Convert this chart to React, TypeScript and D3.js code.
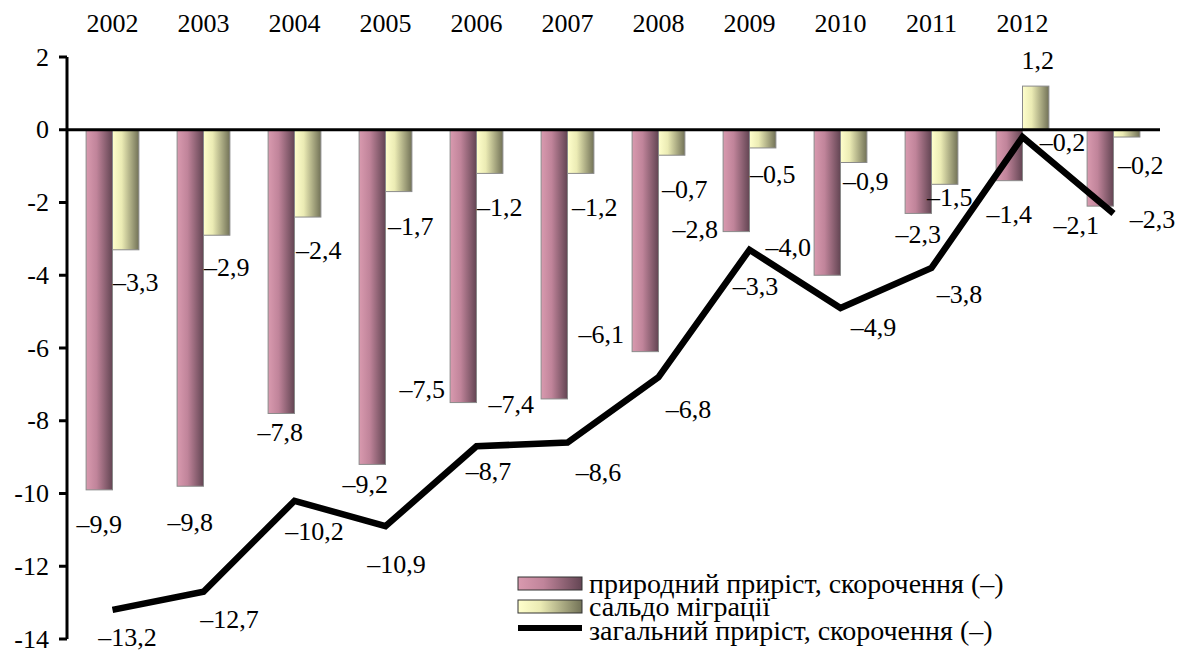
import React from 'react'
import * as d3 from 'd3'

// categories (the last one carries no year label in the source)
const categories = ['c2002', 'c2003', 'c2004', 'c2005', 'c2006', 'c2007', 'c2008', 'c2009', 'c2010', 'c2011', 'c2012', 'c2013']
const yearLabels = ['2002', '2003', '2004', '2005', '2006', '2007', '2008', '2009', '2010', '2011', '2012', '']

const natural = [-9.9, -9.8, -7.8, -9.2, -7.5, -7.4, -6.1, -2.8, -4.0, -2.3, -1.4, -2.1]
const migration = [-3.3, -2.9, -2.4, -1.7, -1.2, -1.2, -0.7, -0.5, -0.9, -1.5, 1.2, -0.2]
const total = [-13.2, -12.7, -10.2, -10.9, -8.7, -8.6, -6.8, -3.3, -4.9, -3.8, -0.2, -2.3]

const yTicks = [2, 0, -2, -4, -6, -8, -10, -12, -14]

const legendLabels = [
  'природний приріст, скорочення (–)',
  'сальдо міграції',
  'загальний приріст, скорочення (–)',
]

// hand placed value labels, nudges in px from the mark's end point
const naturalNudge: [number, number][] = [
  [0, 35], [0, 36], [-1, 19], [-7, 20], [-41, -13], [-43, 6],
  [-44, -17], [-41, -2], [-39, -28], [0, 21], [0, 34], [-24, 19],
]
const migrationNudge: [number, number][] = [
  [10, 33], [10, 32], [11, 33], [12, 35], [10, 34], [14, 34],
  [13, 34], [10, 27], [12, 19], [5, 13], [2, -26], [14, 28],
]
const totalNudge: [number, number][] = [
  [15, 28], [26, 28], [20, 31], [11, 38], [12, 25], [31, 30],
  [30, 32], [6, 37], [33, 20], [28, 27], [40, 5], [39, 6],
]

const W = 1183
const H = 668
const FS = 26
const LEGEND_FS = 28
const FONT = 'Liberation Serif, Times New Roman, DejaVu Serif, Noto Serif, serif'

const fmt = (v: number) => (v < 0 ? '–' : '') + Math.abs(v).toFixed(1).replace('.', ',')

export default function App() {
  const x = d3.scaleBand<string>().domain(categories).range([67, 1159]).padding(0)
  const y = d3.scaleLinear().domain([-14, 2]).range([639, 57])
  const bw = x.bandwidth()
  const barW = bw * 0.29
  const cx = (i: number) => (x(categories[i]) as number) + bw / 2

  const line = d3.line<number>()
    .x((_, i) => cx(i))
    .y(d => y(d))

  return (
    <svg width={W} height={H} style={{ position: 'absolute', left: 0, top: 0, background: '#fff' }}
      fontFamily={FONT} fontSize={FS}>
      <defs>
        <linearGradient id="pinkGrad" x1="0" x2="1" y1="0" y2="0">
          <stop offset="0%" stopColor="#d99aaf" />
          <stop offset="40%" stopColor="#c0849a" />
          <stop offset="100%" stopColor="#634553" />
        </linearGradient>
        <linearGradient id="yellowGrad" x1="0" x2="1" y1="0" y2="0">
          <stop offset="0%" stopColor="#ffffcc" />
          <stop offset="35%" stopColor="#ebebb4" />
          <stop offset="100%" stopColor="#727257" />
        </linearGradient>
      </defs>

      {/* year labels across the top */}
      {yearLabels.map((t, i) => t && (
        <text key={t} x={cx(i)} y={23} textAnchor="middle" dominantBaseline="central">{t}</text>
      ))}

      {/* y axis */}
      <line x1={67} x2={67} y1={y(2)} y2={y(-14)} stroke="#000" strokeWidth={3} />
      {yTicks.map(t => (
        <g key={t}>
          <line x1={59} x2={67} y1={y(t)} y2={y(t)} stroke="#000" strokeWidth={3} />
          <text x={49} y={y(t)} textAnchor="end" dominantBaseline="central">{t}</text>
        </g>
      ))}

      {/* bars */}
      {natural.map((v, i) => (
        <rect key={'n' + i} x={cx(i) - barW} width={barW} y={y(Math.max(0, v))} height={Math.abs(y(v) - y(0))}
          fill="url(#pinkGrad)" stroke="#8a8a8a" strokeWidth={1} />
      ))}
      {migration.map((v, i) => (
        <rect key={'m' + i} x={cx(i)} width={barW} y={y(Math.max(0, v))} height={Math.abs(y(v) - y(0))}
          fill="url(#yellowGrad)" stroke="#8a8a8a" strokeWidth={1} />
      ))}

      {/* zero line */}
      <line x1={67} x2={1160} y1={y(0)} y2={y(0)} stroke="#000" strokeWidth={3} />

      {/* total line */}
      <path d={line(total) || ''} fill="none" stroke="#000" strokeWidth={6.5} strokeLinejoin="miter" />

      {/* value labels */}
      {natural.map((v, i) => (
        <text key={'nl' + i} x={cx(i) - barW / 2 + naturalNudge[i][0]} y={y(v) + naturalNudge[i][1]}
          textAnchor="middle" dominantBaseline="central">{fmt(v)}</text>
      ))}
      {migration.map((v, i) => (
        <text key={'ml' + i} x={cx(i) + barW / 2 + migrationNudge[i][0]} y={y(v) + migrationNudge[i][1]}
          textAnchor="middle" dominantBaseline="central">{fmt(v)}</text>
      ))}
      {total.map((v, i) => (
        <text key={'tl' + i} x={cx(i) + totalNudge[i][0]} y={y(v) + totalNudge[i][1]}
          textAnchor="middle" dominantBaseline="central">{fmt(v)}</text>
      ))}

      {/* legend */}
      <g transform="translate(518,577)" fontSize={LEGEND_FS}>
        <rect x={0} y={0} width={64} height={13} fill="url(#pinkGrad)" stroke="#333" strokeWidth={1} />
        <text x={71} y={6} dominantBaseline="central">{legendLabels[0]}</text>
        <rect x={0} y={23} width={64} height={13} fill="url(#yellowGrad)" stroke="#333" strokeWidth={1} />
        <text x={71} y={29} dominantBaseline="central">{legendLabels[1]}</text>
        <line x1={0} x2={64} y1={51} y2={51} stroke="#000" strokeWidth={6} />
        <text x={71} y={53} dominantBaseline="central">{legendLabels[2]}</text>
      </g>
    </svg>
  )
}
